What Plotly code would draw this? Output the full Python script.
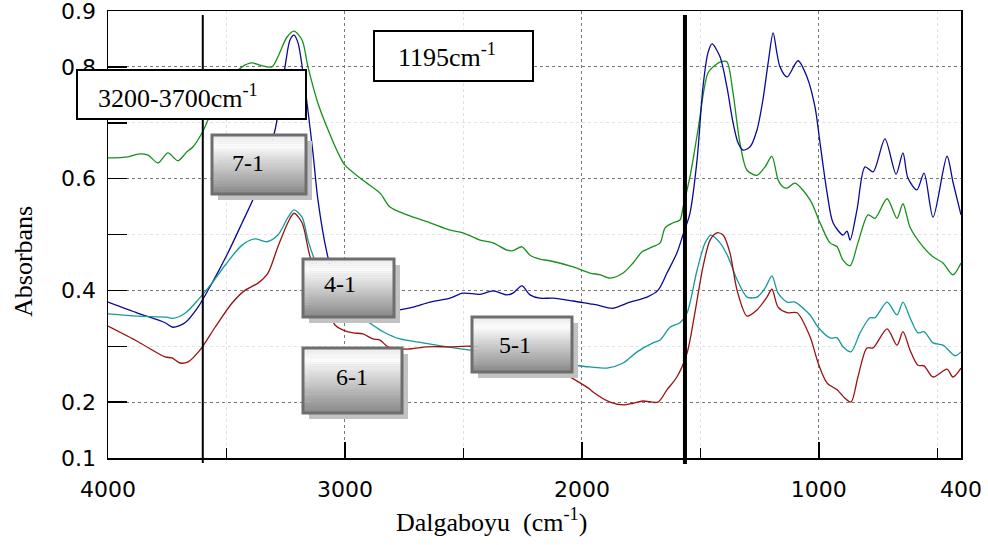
import plotly.graph_objects as go

# ---------------- data (wavenumber cm-1, absorbance) ----------------
green_x = [4000, 3916, 3873, 3831, 3789, 3747, 3705, 3667, 3641, 3603, 3578, 3540, 3490, 3434, 3392,
           3358, 3308, 3283, 3245, 3215, 3181, 3156, 3114, 3071, 3029, 3000, 2924, 2852, 2810, 2738,
           2641, 2557, 2502, 2430, 2375, 2316, 2291, 2253, 2219, 2177, 2135, 2037, 1966, 1924, 1881,
           1826, 1784, 1746, 1712, 1670, 1649, 1615, 1586, 1573, 1544, 1510, 1468, 1438, 1409, 1388,
           1362, 1333, 1303, 1261, 1227, 1198, 1172, 1151, 1134, 1101, 1037, 995, 953, 923, 898,
           868, 835, 792, 763, 712, 670, 645, 615, 560, 518, 476, 434, 400]
green_y = [0.637, 0.639, 0.644, 0.642, 0.628, 0.646, 0.632, 0.648, 0.657, 0.682, 0.705, 0.740, 0.775, 0.800, 0.807,
           0.803, 0.800, 0.818, 0.853, 0.864, 0.848, 0.800, 0.735, 0.687, 0.646, 0.624, 0.597, 0.574, 0.549, 0.535,
           0.521, 0.508, 0.503, 0.490, 0.485, 0.472, 0.471, 0.478, 0.463, 0.456, 0.453, 0.442, 0.431, 0.428, 0.422,
           0.431, 0.449, 0.469, 0.476, 0.485, 0.512, 0.521, 0.526, 0.549, 0.603, 0.687, 0.789, 0.803, 0.810, 0.809,
           0.753, 0.664, 0.615, 0.606, 0.621, 0.640, 0.598, 0.585, 0.583, 0.592, 0.562, 0.521, 0.485, 0.478, 0.454,
           0.444, 0.485, 0.535, 0.529, 0.564, 0.529, 0.555, 0.513, 0.478, 0.460, 0.449, 0.428, 0.449]

blue_x = [4000, 3873, 3759, 3726, 3675, 3620, 3561, 3494, 3434, 3380, 3295, 3253, 3232, 3215, 3198,
          3169, 3135, 3114, 3076, 3021, 2979, 2894, 2797, 2713, 2641, 2557, 2502, 2430, 2375, 2316,
          2291, 2253, 2219, 2177, 2122, 2037, 1966, 1936, 1869, 1797, 1725, 1679, 1641, 1599, 1573,
          1544, 1514, 1489, 1468, 1451, 1417, 1388, 1362, 1341, 1320, 1290, 1261, 1236, 1214, 1193,
          1177, 1164, 1134, 1088, 1050, 1016, 995, 965, 940, 898, 881, 868, 839, 805, 771,
          721, 674, 645, 624, 586, 556, 518, 459, 434, 400]
blue_y = [0.379, 0.359, 0.342, 0.334, 0.342, 0.370, 0.413, 0.467, 0.521, 0.571, 0.687, 0.800, 0.848, 0.857, 0.843,
          0.764, 0.646, 0.562, 0.467, 0.383, 0.360, 0.356, 0.363, 0.370, 0.379, 0.386, 0.395, 0.393, 0.399, 0.392,
          0.395, 0.408, 0.392, 0.386, 0.386, 0.381, 0.376, 0.374, 0.368, 0.379, 0.388, 0.400, 0.431, 0.467, 0.500,
          0.538, 0.633, 0.764, 0.825, 0.841, 0.818, 0.764, 0.700, 0.664, 0.651, 0.657, 0.687, 0.741, 0.807, 0.861,
          0.825, 0.800, 0.782, 0.811, 0.782, 0.728, 0.664, 0.574, 0.521, 0.499, 0.506, 0.490, 0.544, 0.621, 0.612,
          0.671, 0.608, 0.646, 0.601, 0.580, 0.610, 0.531, 0.640, 0.594, 0.535]

teal_x = [4000, 3873, 3751, 3726, 3675, 3620, 3561, 3506, 3434, 3380, 3329, 3283, 3240, 3215, 3181,
          3156, 3131, 3042, 2979, 2924, 2839, 2768, 2671, 2569, 2472, 2261, 2156, 2037, 1966, 1894,
          1826, 1767, 1700, 1670, 1628, 1586, 1556, 1514, 1480, 1455, 1417, 1383, 1345, 1303, 1261,
          1227, 1198, 1172, 1134, 1101, 1037, 1003, 953, 923, 898, 864, 826, 784, 763, 712,
          670, 645, 615, 582, 556, 518, 476, 425, 400]
teal_y = [0.358, 0.354, 0.352, 0.350, 0.359, 0.383, 0.413, 0.445, 0.481, 0.492, 0.487, 0.499, 0.531, 0.544, 0.531,
          0.490, 0.458, 0.374, 0.356, 0.349, 0.326, 0.313, 0.306, 0.299, 0.293, 0.281, 0.272, 0.266, 0.263, 0.261,
          0.270, 0.290, 0.306, 0.311, 0.334, 0.342, 0.360, 0.436, 0.485, 0.499, 0.485, 0.460, 0.419, 0.388, 0.388,
          0.404, 0.426, 0.395, 0.379, 0.379, 0.356, 0.334, 0.315, 0.315, 0.299, 0.290, 0.324, 0.351, 0.351, 0.379,
          0.356, 0.379, 0.351, 0.324, 0.326, 0.306, 0.302, 0.283, 0.290]

red_x = [4000, 3873, 3759, 3730, 3696, 3662, 3612, 3548, 3477, 3422, 3367, 3325, 3283, 3240, 3215,
         3181, 3147, 3042, 3008, 2966, 2924, 2882, 2852, 2818, 2738, 2654, 2557, 2472, 2346, 2219,
         2080, 1966, 1953, 1881, 1826, 1784, 1742, 1679, 1641, 1599, 1556, 1523, 1489, 1459, 1430,
         1404, 1375, 1345, 1303, 1261, 1219, 1198, 1172, 1134, 1092, 1037, 1003, 965, 923, 890,
         864, 835, 797, 771, 712, 670, 645, 615, 582, 556, 518, 459, 434, 400]
red_y = [0.336, 0.308, 0.281, 0.279, 0.270, 0.272, 0.293, 0.334, 0.377, 0.400, 0.413, 0.431, 0.478, 0.522, 0.538,
         0.521, 0.460, 0.338, 0.329, 0.324, 0.322, 0.313, 0.311, 0.299, 0.295, 0.299, 0.299, 0.300, 0.293, 0.275,
         0.252, 0.223, 0.218, 0.200, 0.195, 0.198, 0.202, 0.200, 0.222, 0.245, 0.288, 0.360, 0.442, 0.490, 0.503,
         0.499, 0.467, 0.400, 0.354, 0.365, 0.388, 0.402, 0.370, 0.360, 0.360, 0.317, 0.270, 0.234, 0.222, 0.207,
         0.200, 0.245, 0.297, 0.297, 0.331, 0.302, 0.326, 0.293, 0.266, 0.265, 0.245, 0.259, 0.245, 0.261]

x_tick_vals = [4000, 3000, 2000, 1000, 400]
x_tick_text = ["4000", "3000", "2000", "1000", "400"]
x_minor_vals = [3500, 2500, 1500, 500]
y_tick_vals = [0.1, 0.2, 0.4, 0.6, 0.8, 0.9]
y_tick_text = ["0.1", "0.2", "0.4", "0.6", "0.8", "0.9"]
y_minor_vals = [0.3, 0.5, 0.7]
marker_lines = [3600, 1565]

# ---------------- figure ----------------
W, H = 988, 545
L, R, T, B = 108, 27, 11, 87
PW, PH = W - L - R, H - T - B


def px(xp):
    return (xp - L) / PW


def py(yp):
    return (H - B - yp) / PH


fig = go.Figure()
series = [
    (green_x, green_y, "#18901a"),
    (blue_x, blue_y, "#0a0a96"),
    (teal_x, teal_y, "#16999a"),
    (red_x, red_y, "#981212"),
]
for xs, ys, c in series:
    fig.add_trace(go.Scatter(x=xs, y=ys, mode="lines",
                             line=dict(color=c, width=1.3, shape="spline", smoothing=0.8),
                             hoverinfo="skip"))

shapes = []
# vertical marker lines
shapes.append(dict(type="line", xref="x", yref="paper", x0=marker_lines[0], x1=marker_lines[0],
                   y0=py(463), y1=py(15), line=dict(color="black", width=2)))
shapes.append(dict(type="line", xref="x", yref="paper", x0=marker_lines[1], x1=marker_lines[1],
                   y0=py(464), y1=py(15), line=dict(color="black", width=4)))


def white_box(x0, y0, x1, y1):
    shapes.append(dict(type="rect", xref="paper", yref="paper", x0=px(x0), x1=px(x1), y0=py(y1), y1=py(y0),
                       fillcolor="white", line=dict(color="black", width=2)))


def hexc(v):
    v = int(round(v))
    return "#%02x%02x%02x" % (v, v, v)


def grad_box(x0, y0, x1, y1):
    shapes.append(dict(type="rect", xref="paper", yref="paper", x0=px(x0 + 6), x1=px(x1 + 6),
                       y0=py(y1 + 6), y1=py(y0 + 6), fillcolor="#c2c2c2", line=dict(width=0)))
    n = 28
    h = (y1 - y0) / n
    for i in range(n):
        t = (i + 0.5) / n
        if t < 0.18:
            v = 232 + (252 - 232) * t / 0.18
        else:
            v = 252 - (252 - 135) * (t - 0.18) / 0.82
        shapes.append(dict(type="rect", xref="paper", yref="paper", x0=px(x0), x1=px(x1),
                           y0=py(y0 + (i + 1) * h + 0.3), y1=py(y0 + i * h),
                           fillcolor=hexc(v), line=dict(width=0)))
    shapes.append(dict(type="rect", xref="paper", yref="paper", x0=px(x0), x1=px(x1), y0=py(y1), y1=py(y0),
                       fillcolor="rgba(0,0,0,0)", line=dict(color="#6e6e6e", width=3)))


white_box(77, 70, 306, 119)
white_box(374, 31, 533, 81)
grad_box(212, 135, 306, 194)
grad_box(303, 259, 394, 317)
grad_box(303, 348, 402, 413)
grad_box(472, 317, 572, 372)

serif = "Liberation Serif, Times New Roman, serif"
ann = []


def label(text, xc, yc, size, anchor="center"):
    ann.append(dict(text=text, xref="paper", yref="paper", x=px(xc), y=py(yc), xanchor=anchor,
                    yanchor="middle", showarrow=False, font=dict(family=serif, size=size, color="black")))


label("3200-3700cm<sup>-1</sup>", 96, 96, 26, "left")
label("1195cm<sup>-1</sup>", 396, 56, 26, "left")
label("7-1", 248, 163, 24)
label("4-1", 340, 284, 24)
label("6-1", 352, 377, 24)
label("5-1", 515, 345, 24)
label("Dalgaboyu  (cm<sup>-1</sup>)", 491, 520, 26)
ann.append(dict(text="Absorbans", xref="paper", yref="paper", x=px(23), y=py(262), textangle=-90,
                xanchor="center", yanchor="middle", showarrow=False,
                font=dict(family=serif, size=26, color="black")))

tickfont = dict(family="DejaVu Sans, Arial, sans-serif", size=22, color="black")

fig.update_layout(
    width=W, height=H,
    margin=dict(l=L, r=R, t=T, b=B, pad=0, autoexpand=False),
    paper_bgcolor="white", plot_bgcolor="white",
    showlegend=False,
    shapes=shapes,
    annotations=ann,
    xaxis=dict(range=[4000, 400], tickmode="array", tickvals=x_tick_vals, ticktext=x_tick_text,
               ticks="inside", ticklen=16, tickwidth=1.5, tickcolor="black", automargin=False,
               ticklabeloverflow="allow",
               showline=True, linecolor="black", linewidth=1.5, mirror=True,
               showgrid=True, gridcolor="#7a7a7a", griddash="dot", gridwidth=1, zeroline=False,
               tickfont=tickfont, ticklabelstandoff=11,
               minor=dict(tickmode="array", tickvals=x_minor_vals, ticks="inside", ticklen=10,
                          tickwidth=1.5, tickcolor="black", showgrid=True, gridcolor="#e2e2e2",
                          gridwidth=1)),
    yaxis=dict(range=[0.1, 0.9], tickmode="array", tickvals=y_tick_vals, ticktext=y_tick_text,
               ticks="inside", ticklen=19, tickwidth=1.5, tickcolor="black", automargin=False,
               ticklabeloverflow="allow",
               showline=True, linecolor="black", linewidth=1.5, mirror=True,
               showgrid=True, gridcolor="#7a7a7a", griddash="dot", gridwidth=1, zeroline=False,
               tickfont=tickfont, ticklabelstandoff=6,
               minor=dict(tickmode="array", tickvals=y_minor_vals, ticks="inside", ticklen=19,
                          tickwidth=1.5, tickcolor="black", showgrid=True, gridcolor="#e2e2e2",
                          gridwidth=1)),
)

fig.write_html("out.html", config={"displayModeBar": False, "staticPlot": True},
               post_script="document.body.style.margin='0';document.body.style.overflow='hidden';")
